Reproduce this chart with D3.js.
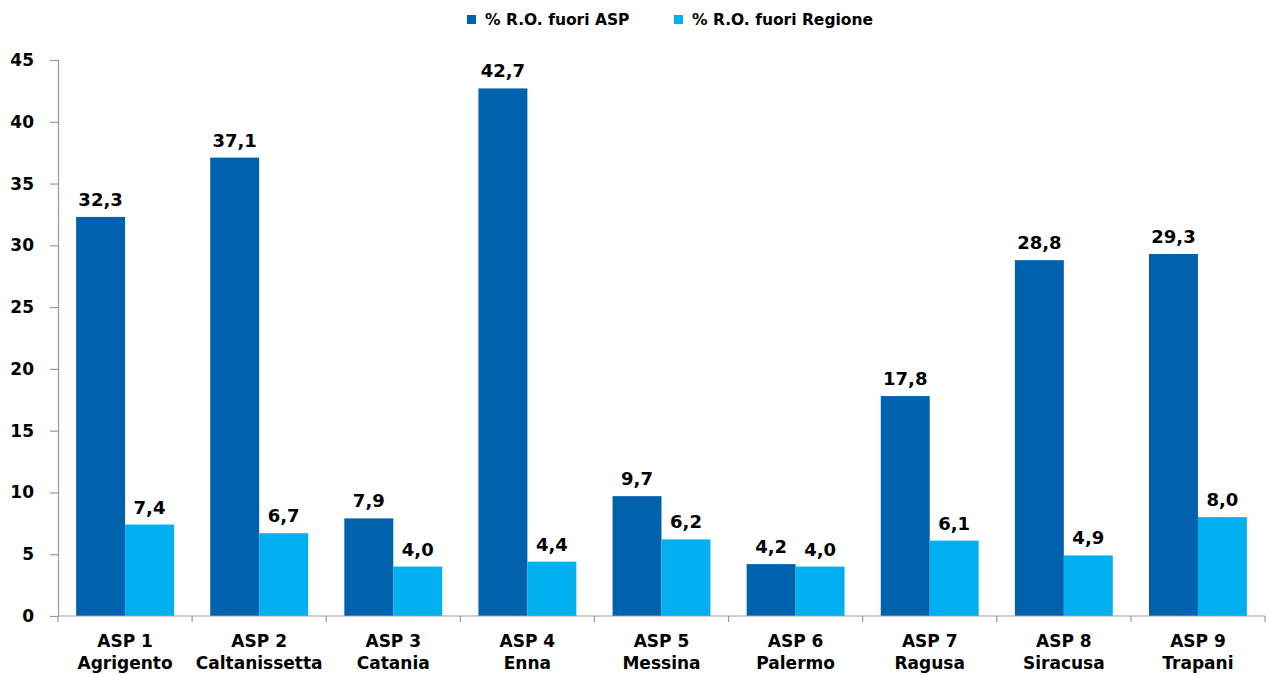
<!DOCTYPE html>
<html><head><meta charset="utf-8">
<script src="https://cdn.jsdelivr.net/npm/d3@7"></script>
<style>body{margin:0;background:#fff}svg{display:block}text{font-family:"DejaVu Sans",Verdana,sans-serif;font-weight:bold}</style>
</head><body><svg id="c" width="1269" height="675"></svg>
<script>
const codes = ["ASP 1","ASP 2","ASP 3","ASP 4","ASP 5","ASP 6","ASP 7","ASP 8","ASP 9"];
const names = ["Agrigento","Caltanissetta","Catania","Enna","Messina","Palermo","Ragusa","Siracusa","Trapani"];
const seriesNames = ["% R.O. fuori ASP","% R.O. fuori Regione"];
const fuoriASP = [32.3,37.1,7.9,42.7,9.7,4.2,17.8,28.8,29.3];
const fuoriRegione = [7.4,6.7,4.0,4.4,6.2,4.0,6.1,4.9,8.0];
const yTicks = [0,5,10,15,20,25,30,35,40,45];
const colors = ["#0061AC","#00B0F0"];

const svg = d3.select("#c");
const m = {l:58, r:4, t:60, b:59};
const W = 1269, H = 675;
const y = d3.scaleLinear().domain([0,45]).range([H-m.b, m.t]);
const x0 = d3.scaleBand().domain(codes).range([m.l, W-m.r]).padding(0);
const x1 = d3.scaleBand().domain([0,1]).range([0, x0.bandwidth()]).paddingInner(0).paddingOuter(0.37);
const data = codes.map((c,i)=>({c, n:names[i], v:[fuoriASP[i], fuoriRegione[i]]}));

// bars
const g = svg.append("g");
data.forEach(d=>{
  d.v.forEach((v,s)=>{
    g.append("rect").attr("x", x0(d.c)+x1(s)).attr("y", y(v))
      .attr("width", x1.bandwidth()).attr("height", y(0)-y(v)).attr("fill", colors[s]);
    g.append("text").attr("x", x0(d.c)+x1(s)+x1.bandwidth()/2).attr("y", y(v)-11)
      .attr("text-anchor","middle").attr("font-size",18).attr("fill","#000")
      .text(v.toFixed(1).replace(".",","));
  });
});

// y axis
const ya = svg.append("g").attr("transform",`translate(${m.l},0)`)
  .call(d3.axisLeft(y).tickValues(yTicks).tickSize(8).tickSizeOuter(8).tickPadding(16));
ya.selectAll("path,line").attr("stroke","#999").attr("stroke-width",1.2);
ya.selectAll("text").attr("font-size",17).attr("fill","#000").attr("font-family","DejaVu Sans, Verdana, sans-serif").attr("font-weight","bold");

// x axis
const xa = svg.append("g").attr("transform",`translate(0,${y(0)})`);
xa.append("line").attr("x1",m.l).attr("x2",W-m.r).attr("stroke","#999").attr("stroke-width",1.2);
const bounds = codes.map(c=>x0(c)).concat([x0(codes[codes.length-1])+x0.bandwidth()]);
xa.selectAll("line.t").data(bounds).join("line").attr("class","t")
  .attr("x1",d=>d).attr("x2",d=>d).attr("y1",0).attr("y2",6).attr("stroke","#999").attr("stroke-width",1.2);
data.forEach(d=>{
  const cx = x0(d.c)+x0.bandwidth()/2;
  xa.append("text").attr("x",cx).attr("y",31).attr("text-anchor","middle").attr("font-size",17).text(d.c);
  xa.append("text").attr("x",cx).attr("y",53).attr("text-anchor","middle").attr("font-size",17).text(d.n);
});

// legend
const lg = svg.append("g");
const lx = [467, 674];
seriesNames.forEach((s,i)=>{
  lg.append("rect").attr("x",lx[i]).attr("y",15).attr("width",9).attr("height",9).attr("fill",colors[i]);
  lg.append("text").attr("x",lx[i]+18).attr("y",25).attr("font-size",15.5).attr("fill","#000").text(s);
});
</script></body></html>
